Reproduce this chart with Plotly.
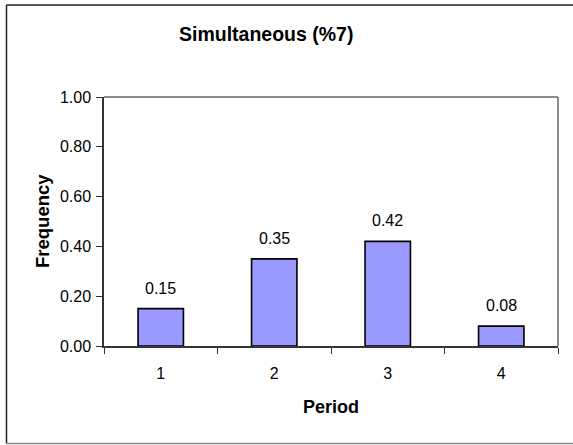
import plotly.graph_objects as go

# Chart data
periods = ["1", "2", "3", "4"]
frequency = [0.15, 0.35, 0.42, 0.08]
y_ticks = [0.0, 0.2, 0.4, 0.6, 0.8, 1.0]
y_tick_labels = ["0.00", "0.20", "0.40", "0.60", "0.80", "1.00"]

FONT = "Liberation Sans, Arial, sans-serif"
W, H = 573, 445
L, R, T, B = 104, 15, 97, 99
pw, ph = W - L - R, H - T - B


def px_x(x):
    return (x - L) / pw


def px_y(y):
    return (H - B - y) / ph


fig = go.Figure()
fig.add_trace(go.Bar(
    x=periods,
    y=frequency,
    width=0.4,
    marker=dict(color="#9999FF", line=dict(color="black", width=1.6)),
    hoverinfo="skip",
))

# Value labels above the bars (category index positions)
for i, v in enumerate(frequency):
    fig.add_annotation(x=i, y=v, text=f"{v:.2f}", showarrow=False,
                       yanchor="bottom", yshift=10,
                       font=dict(family=FONT, size=16, color="black"))

# Title and axis titles
fig.add_annotation(xref="paper", yref="paper", x=px_x(266), y=px_y(34),
                   xanchor="center", yanchor="middle",
                   text="<b>Simultaneous (%7)</b>", showarrow=False,
                   font=dict(family=FONT, size=19.5, color="black"))
fig.add_annotation(xref="paper", yref="paper", x=0.5, y=px_y(407),
                   xanchor="center", yanchor="middle",
                   text="<b>Period</b>", showarrow=False,
                   font=dict(family=FONT, size=18, color="black"))
fig.add_annotation(xref="paper", yref="paper", x=px_x(42), y=px_y(221),
                   xanchor="center", yanchor="middle",
                   text="<b>Frequency</b>", showarrow=False, textangle=-90,
                   font=dict(family=FONT, size=18.5, color="black"))

# Plot-area frame (top and right edges) in grey
fig.add_shape(type="line", xref="paper", yref="paper", x0=0, x1=1, y0=1, y1=1,
              line=dict(color="#8c8c8c", width=2))
fig.add_shape(type="line", xref="paper", yref="paper", x0=1, x1=1, y0=0, y1=1,
              line=dict(color="#8c8c8c", width=2))

# Outer chart border
fig.add_shape(type="line", xref="paper", yref="paper",
              x0=px_x(6.5), x1=px_x(6.5), y0=px_y(5), y1=px_y(443.5),
              line=dict(color="#222222", width=1.5))
fig.add_shape(type="line", xref="paper", yref="paper",
              x0=px_x(6.5), x1=px_x(580), y0=px_y(5), y1=px_y(5),
              line=dict(color="#222222", width=1.5))
fig.add_shape(type="line", xref="paper", yref="paper",
              x0=px_x(6.5), x1=px_x(580), y0=px_y(443.5), y1=px_y(443.5),
              line=dict(color="#888888", width=1.5))

fig.update_layout(
    width=W, height=H,
    margin=dict(l=L, r=R, t=T, b=B, pad=0),
    paper_bgcolor="white", plot_bgcolor="white",
    showlegend=False,
    bargap=0.6,
    font=dict(family=FONT, size=16, color="black"),
)
fig.update_xaxes(
    type="category", categoryorder="array", categoryarray=periods,
    showline=True, linecolor="#333333", linewidth=1.5,
    ticks="outside", tickson="boundaries", ticklen=6, tickcolor="#333333",
    tickwidth=1, showgrid=False, zeroline=False,
    tickfont=dict(family=FONT, size=16, color="black"),
    ticklabelstandoff=12,
)
fig.update_yaxes(
    range=[0, 1], tickvals=y_ticks, ticktext=y_tick_labels,
    showline=True, linecolor="#333333", linewidth=1.5,
    ticks="outside", ticklen=6, tickcolor="#333333", tickwidth=1,
    showgrid=False, zeroline=False,
    tickfont=dict(family=FONT, size=16, color="black"),
    ticklabelstandoff=2,
)

fig.write_html("out.html")
